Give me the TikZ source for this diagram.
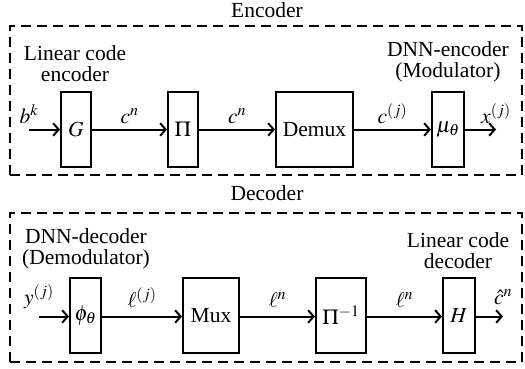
\documentclass[tikz,border=0pt]{standalone}
\usepackage{mathptmx}
\usepackage{fontspec}
\setmainfont{Liberation Serif}
\usetikzlibrary{arrows.meta}
\begin{document}
\begin{tikzpicture}[x=1pt,y=-1pt,
  font=\fontsize{21.5}{21}\selectfont,
  blk/.style={draw,line width=2pt,minimum height=75pt,inner sep=0pt},
  arr/.style={line width=2pt,-{Straight Barb[length=5.5pt,width=12.5pt]}},
  grp/.style={draw,line width=2.3pt,dash pattern=on 10pt off 6pt,inner sep=0pt},
  lbl/.style={inner sep=0pt,anchor=base,yshift=6pt},
  dlbl/.style={inner sep=0pt,anchor=base,yshift=9pt},
  elbl/.style={inner sep=0pt,anchor=base,yshift=12pt},
  captxt/.style={align=center,inner sep=0pt}]
\useasboundingbox (0,0) rectangle (525,369);
% Encoder
\node[grp,minimum width=512pt,minimum height=149pt] (enc) at (266,100.5) {};
\node[inner sep=0pt] (enct) at (267,10) {Encoder};
\node[captxt] (t1) at (75,64) {Linear code\\encoder};
\node[captxt] (t2) at (448,62) {DNN-encoder\\(Modulator)};
\node[blk,minimum width=30pt] (G) at (76,129.5) {$G$};
\node[blk,minimum width=30pt] (P) at (183,129.5) {$\Pi$};
\node[blk,minimum width=77pt] (D) at (314.5,129.5) {Demux};
\node[blk,minimum width=32pt] (M) at (448,129.5) {$\mu_\theta$};
\coordinate (in1) at (29,129.5);
\coordinate (out1) at (496,129.5);
\draw[arr] (in1) -- (G) node[lbl,pos=0] (lb) {$b^k$};
\draw[arr] (G) -- (P) node[lbl,midway] (lc1) {$c^n$};
\draw[arr] (P) -- (D) node[lbl,midway] (lc2) {$c^n$};
\draw[arr] (D) -- (M) node[lbl,midway] (lc3) {$c^{(j)}$};
\draw[arr] (M) -- (out1) node[lbl,pos=1] (lx) {$x^{(j)}$};
% Decoder
\node[grp,minimum width=512pt,minimum height=149pt] (dec) at (266,287.5) {};
\node[inner sep=0pt] (dect) at (267,193) {Decoder};
\node[captxt] (t3) at (86,249) {DNN-decoder\\(Demodulator)};
\node[captxt] (t4) at (458,251) {Linear code\\decoder};
\node[blk,minimum width=31pt] (F) at (85.5,315.5) {$\phi_\theta$};
\node[blk,minimum width=56pt] (X) at (211,315.5) {Mux};
\node[blk,minimum width=50pt] (Q) at (341,315.5) {$\Pi^{-1}$};
\node[blk,minimum width=32pt] (H) at (459,315.5) {$H$};
\coordinate (in2) at (39,316.5);
\coordinate (out2) at (503,316.5);
\draw[arr] (in2) -- (in2 -| F.west) node[elbl,pos=0] (ly) {$y^{(j)}$};
\draw[arr] (F.east |- in2) -- (in2 -| X.west) node[dlbl,midway] (ll1) {$\ell^{(j)}$};
\draw[arr] (X.east |- in2) -- (in2 -| Q.west) node[dlbl,midway] (ll2) {$\ell^n$};
\draw[arr] (Q.east |- in2) -- (in2 -| H.west) node[dlbl,midway] (ll3) {$\ell^n$};
\draw[arr] (H.east |- in2) -- (out2) node[elbl,pos=1] (lch) {$\hat{c}^n$};
\end{tikzpicture}
\end{document}
